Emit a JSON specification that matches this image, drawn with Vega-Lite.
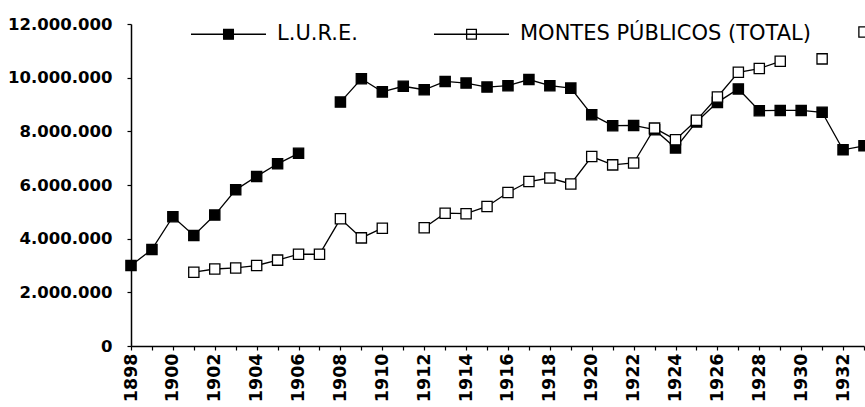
{
  "$schema": "https://vega.github.io/schema/vega-lite/v6.json",
  "width": 733,
  "height": 322,
  "autosize": {"type": "none"},
  "padding": {"left": 131, "top": 24, "right": 1, "bottom": 61},
  "background": "white",
  "config": {
    "view": {"stroke": null},
    "axis": {
      "grid": false,
      "domainColor": "black",
      "domainWidth": 1.5,
      "tickColor": "black",
      "tickWidth": 1.2,
      "labelColor": "black",
      "labelFont": "DejaVu Sans",
      "labelFontWeight": "bold",
      "labelFontSize": 16.5,
      "title": null
    }
  },
  "data": {
    "values": [
      {"year": 1898, "serie": "L.U.R.E.", "value": 3000000},
      {"year": 1899, "serie": "L.U.R.E.", "value": 3600000},
      {"year": 1900, "serie": "L.U.R.E.", "value": 4820000},
      {"year": 1901, "serie": "L.U.R.E.", "value": 4120000},
      {"year": 1902, "serie": "L.U.R.E.", "value": 4880000},
      {"year": 1903, "serie": "L.U.R.E.", "value": 5820000},
      {"year": 1904, "serie": "L.U.R.E.", "value": 6320000},
      {"year": 1905, "serie": "L.U.R.E.", "value": 6790000},
      {"year": 1906, "serie": "L.U.R.E.", "value": 7180000},
      {"year": 1907, "serie": "L.U.R.E.", "value": null},
      {"year": 1908, "serie": "L.U.R.E.", "value": 9090000},
      {"year": 1909, "serie": "L.U.R.E.", "value": 9960000},
      {"year": 1910, "serie": "L.U.R.E.", "value": 9470000},
      {"year": 1911, "serie": "L.U.R.E.", "value": 9680000},
      {"year": 1912, "serie": "L.U.R.E.", "value": 9550000},
      {"year": 1913, "serie": "L.U.R.E.", "value": 9860000},
      {"year": 1914, "serie": "L.U.R.E.", "value": 9800000},
      {"year": 1915, "serie": "L.U.R.E.", "value": 9650000},
      {"year": 1916, "serie": "L.U.R.E.", "value": 9700000},
      {"year": 1917, "serie": "L.U.R.E.", "value": 9930000},
      {"year": 1918, "serie": "L.U.R.E.", "value": 9700000},
      {"year": 1919, "serie": "L.U.R.E.", "value": 9610000},
      {"year": 1920, "serie": "L.U.R.E.", "value": 8620000},
      {"year": 1921, "serie": "L.U.R.E.", "value": 8210000},
      {"year": 1922, "serie": "L.U.R.E.", "value": 8220000},
      {"year": 1923, "serie": "L.U.R.E.", "value": 8060000},
      {"year": 1924, "serie": "L.U.R.E.", "value": 7380000},
      {"year": 1925, "serie": "L.U.R.E.", "value": 8350000},
      {"year": 1926, "serie": "L.U.R.E.", "value": 9080000},
      {"year": 1927, "serie": "L.U.R.E.", "value": 9580000},
      {"year": 1928, "serie": "L.U.R.E.", "value": 8770000},
      {"year": 1929, "serie": "L.U.R.E.", "value": 8780000},
      {"year": 1930, "serie": "L.U.R.E.", "value": 8780000},
      {"year": 1931, "serie": "L.U.R.E.", "value": 8710000},
      {"year": 1932, "serie": "L.U.R.E.", "value": 7310000},
      {"year": 1933, "serie": "L.U.R.E.", "value": 7460000},
      {"year": 1901, "serie": "MONTES PÚBLICOS (TOTAL)", "value": 2750000},
      {"year": 1902, "serie": "MONTES PÚBLICOS (TOTAL)", "value": 2870000},
      {"year": 1903, "serie": "MONTES PÚBLICOS (TOTAL)", "value": 2910000},
      {"year": 1904, "serie": "MONTES PÚBLICOS (TOTAL)", "value": 3000000},
      {"year": 1905, "serie": "MONTES PÚBLICOS (TOTAL)", "value": 3200000},
      {"year": 1906, "serie": "MONTES PÚBLICOS (TOTAL)", "value": 3420000},
      {"year": 1907, "serie": "MONTES PÚBLICOS (TOTAL)", "value": 3420000},
      {"year": 1908, "serie": "MONTES PÚBLICOS (TOTAL)", "value": 4740000},
      {"year": 1909, "serie": "MONTES PÚBLICOS (TOTAL)", "value": 4030000},
      {"year": 1910, "serie": "MONTES PÚBLICOS (TOTAL)", "value": 4390000},
      {"year": 1911, "serie": "MONTES PÚBLICOS (TOTAL)", "value": null},
      {"year": 1912, "serie": "MONTES PÚBLICOS (TOTAL)", "value": 4410000},
      {"year": 1913, "serie": "MONTES PÚBLICOS (TOTAL)", "value": 4950000},
      {"year": 1914, "serie": "MONTES PÚBLICOS (TOTAL)", "value": 4930000},
      {"year": 1915, "serie": "MONTES PÚBLICOS (TOTAL)", "value": 5200000},
      {"year": 1916, "serie": "MONTES PÚBLICOS (TOTAL)", "value": 5720000},
      {"year": 1917, "serie": "MONTES PÚBLICOS (TOTAL)", "value": 6130000},
      {"year": 1918, "serie": "MONTES PÚBLICOS (TOTAL)", "value": 6260000},
      {"year": 1919, "serie": "MONTES PÚBLICOS (TOTAL)", "value": 6040000},
      {"year": 1920, "serie": "MONTES PÚBLICOS (TOTAL)", "value": 7060000},
      {"year": 1921, "serie": "MONTES PÚBLICOS (TOTAL)", "value": 6750000},
      {"year": 1922, "serie": "MONTES PÚBLICOS (TOTAL)", "value": 6820000},
      {"year": 1923, "serie": "MONTES PÚBLICOS (TOTAL)", "value": 8120000},
      {"year": 1924, "serie": "MONTES PÚBLICOS (TOTAL)", "value": 7690000},
      {"year": 1925, "serie": "MONTES PÚBLICOS (TOTAL)", "value": 8410000},
      {"year": 1926, "serie": "MONTES PÚBLICOS (TOTAL)", "value": 9280000},
      {"year": 1927, "serie": "MONTES PÚBLICOS (TOTAL)", "value": 10200000},
      {"year": 1928, "serie": "MONTES PÚBLICOS (TOTAL)", "value": 10340000},
      {"year": 1929, "serie": "MONTES PÚBLICOS (TOTAL)", "value": 10610000},
      {"year": 1930, "serie": "MONTES PÚBLICOS (TOTAL)", "value": null},
      {"year": 1931, "serie": "MONTES PÚBLICOS (TOTAL)", "value": 10700000},
      {"year": 1932, "serie": "MONTES PÚBLICOS (TOTAL)", "value": null},
      {"year": 1933, "serie": "MONTES PÚBLICOS (TOTAL)", "value": 11700000}
    ]
  },
  "encoding": {
    "x": {
      "field": "year",
      "type": "quantitative",
      "scale": {"domain": [1898, 1933], "nice": false, "zero": false},
      "axis": {
        "values": [1898, 1899, 1900, 1901, 1902, 1903, 1904, 1905, 1906, 1907, 1908, 1909, 1910, 1911, 1912, 1913, 1914, 1915, 1916, 1917, 1918, 1919, 1920, 1921, 1922, 1923, 1924, 1925, 1926, 1927, 1928, 1929, 1930, 1931, 1932, 1933],
        "format": "d",
        "labelExpr": "datum.value % 2 == 0 ? datum.label : ''",
        "labelAngle": 270,
        "labelFontSize": 17.5,
        "tickSize": 4,
        "labelPadding": 3,
        "labelOverlap": false,
        "labelFlush": false
      }
    },
    "y": {
      "field": "value",
      "type": "quantitative",
      "scale": {"domain": [0, 12000000], "nice": false},
      "axis": {
        "values": [0, 2000000, 4000000, 6000000, 8000000, 10000000, 12000000],
        "format": ",d",
        "labelExpr": "replace(replace(datum.label, ',', '.'), ',', '.')",
        "tickSize": 4,
        "labelPadding": 15,
        "labelFlush": false
      }
    }
  },
  "layer": [
    {
      "mark": {"type": "line", "color": "black", "strokeWidth": 1.3, "invalid": "break-paths-show-domains"},
      "encoding": {"detail": {"field": "serie", "type": "nominal"}}
    },
    {
      "mark": {"type": "point", "shape": "square", "size": 105, "stroke": "black", "strokeWidth": 1.3, "opacity": 1, "filled": true},
      "encoding": {
        "fill": {
          "field": "serie",
          "type": "nominal",
          "scale": {"domain": ["L.U.R.E.", "MONTES PÚBLICOS (TOTAL)"], "range": ["black", "white"]},
          "legend": {
            "orient": "none",
            "legendX": 59,
            "legendY": -28.5,
            "direction": "horizontal",
            "title": null,
            "padding": 0,
            "symbolType": "M-1,0L1,0M-0.13,-0.13L0.13,-0.13L0.13,0.13L-0.13,0.13Z",
            "symbolSize": 5625,
            "symbolStrokeColor": "black",
            "symbolStrokeWidth": 1.3,
            "labelFont": "DejaVu Sans",
            "labelFontSize": 21,
            "labelColor": "black",
            "labelOffset": 10,
            "labelLimit": 500,
            "columnPadding": 73
          }
        }
      }
    }
  ]
}
